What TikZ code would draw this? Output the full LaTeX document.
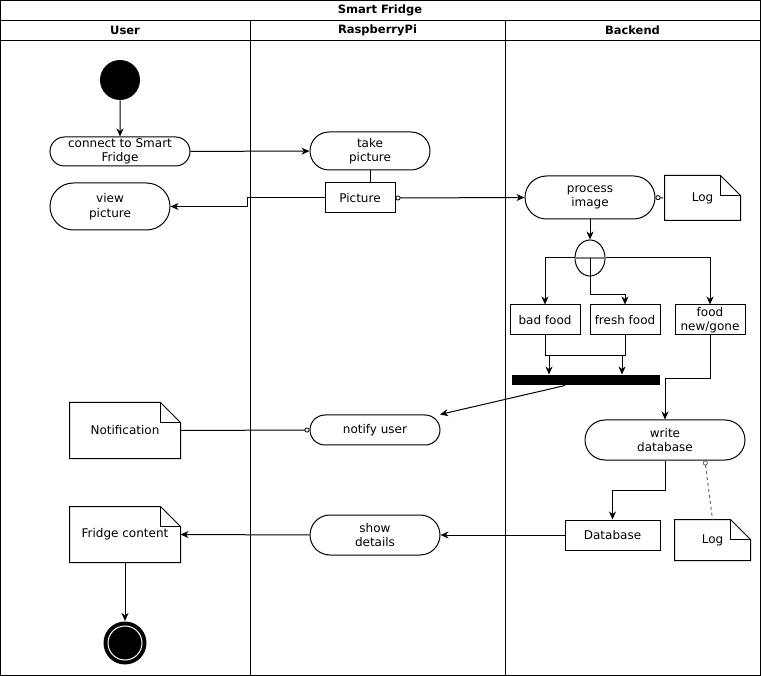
\documentclass[tikz,border=0pt]{standalone}
\usepackage{fontspec}
\setmainfont{DejaVu Sans}
\usetikzlibrary{arrows.meta,positioning,shapes.geometric,shapes.misc}

\begin{document}
\begin{tikzpicture}[x=1pt, y=-1pt, line width=1pt,
  font=\fontsize{12}{14.5}\selectfont,
  head/.style={font=\fontsize{11.5}{13}\selectfont\bfseries},
  act/.style={draw, rounded rectangle, align=center, inner sep=0pt},
  box/.style={draw, rectangle, align=center, inner sep=0pt, minimum height=30pt},
  note/.style={rectangle, align=center, inner sep=0pt, append after command={\pgfextra{
      \draw (\tikzlastnode.north west) -- ([xshift=-20pt]\tikzlastnode.north east)
        -- ([yshift=-20pt]\tikzlastnode.north east) -- (\tikzlastnode.south east)
        -- (\tikzlastnode.south west) -- cycle;
      \draw ([xshift=-20pt]\tikzlastnode.north east) |- ([yshift=-20pt]\tikzlastnode.north east);}}},
  ar/.style={-{Stealth[length=8pt,width=7pt,inset=2.5pt]}},
  ob/.style={{Circle[open,length=5pt,width=5pt,line width=0.8pt]}-},
  obar/.style={{Circle[open,length=5pt,width=5pt,line width=0.8pt]}-{Stealth[length=8pt,width=7pt,inset=2.5pt]}},
  lnk/.style={dash pattern=on 3pt off 3pt}]
  \useasboundingbox (0,0) rectangle (761,676);
  % pool and lanes
  \draw (0.5,0.5) rectangle (760.5,675.5);
  \draw (0.5,20.5) -- (760.5,20.5);
  \draw (0.5,40.5) -- (760.5,40.5);
  \draw (250.5,20.5) -- (250.5,675.5);
  \draw (505.5,20.5) -- (505.5,675.5);
  \node[head] (title) at (380,10.5) {Smart Fridge};
  \node[head] (laneuser) at (125,30.5) {User};
  \node[head] (lanepi) at (377.5,30.5) {RaspberryPi};
  \node[head] (laneback) at (632.5,30.5) {Backend};
  % User
  \node[circle, fill, minimum size=40pt, inner sep=0pt] (start) at (120,80) {};
  \node[act, minimum width=140pt, minimum height=29pt] (connect) at (120,151.5) {connect to Smart\\Fridge};
  \node[act, minimum width=120pt, minimum height=47pt] (view) at (110,206.5) {view\\picture};
  \node[note, minimum width=110pt, minimum height=55pt] (notif) at (125,430.5) {Notification};
  \node[note, minimum width=110pt, minimum height=55pt] (content) at (125,534.5) {Fridge content};
  \node[circle, fill, minimum size=43pt, inner sep=0pt,
    path picture={\draw[white] (path picture bounding box.center) circle (17pt);}] (stop) at (125,643) {};
  % RaspberryPi
  \node[act, minimum width=120pt, minimum height=38pt] (take) at (370,151) {take\\picture};
  \node[box, minimum width=70pt] (pic) at (360,198) {Picture};
  \node[act, minimum width=130pt, minimum height=30pt] (notify) at (375,430) {notify user};
  \node[act, minimum width=130pt, minimum height=40pt] (show) at (375,535) {show\\details};
  % Backend
  \node[act, minimum width=130pt, minimum height=43pt] (proc) at (590,197.5) {process\\image};
  \node[note, minimum width=75pt, minimum height=44pt] (log) at (702.5,198) {Log};
  \node[draw, ellipse, minimum width=30pt, minimum height=36pt, inner sep=0pt] (fork) at (590,258) {};
  \draw[gray, line width=1.5pt] (fork.west) -- (fork.east);
  \node[box, minimum width=70pt] (bad) at (545,320) {bad food};
  \node[box, minimum width=70pt] (fresh) at (625,320) {fresh food};
  \node[box, minimum width=70pt] (newgone) at (710,320) {food\\new/gone};
  \node[fill, minimum width=148pt, minimum height=10pt, inner sep=0pt] (bar) at (586,380) {};
  \node[act, minimum width=160pt, minimum height=40pt] (write) at (665,440) {write\\database};
  \node[box, minimum width=95pt] (db) at (612.5,535) {Database};
  \node[note, minimum width=75pt, minimum height=40pt] (log2) at (712.5,540) {Log};
  % flows
  \draw[ar] (start) -- (connect);
  \draw[ar] (connect) -- (take);
  \draw (take.south) -- (take.south |- pic.north);
  \draw[ar] (pic.west) -- ++(-77,0) |- (view.east);
  \draw[obar] (pic.east) -- (proc.west);
  \draw[ob, lnk] (proc.east) -- (log.west);
  \draw[ar] (proc.south) -- (fork.north);
  \draw[ar] (fork.west) -| (bad.north);
  \draw[ar] (fork.center) |- ([yshift=10pt]fresh.north) -- (fresh.north);
  \draw[ar] (fork.east) -| (newgone.north);
  \draw (bad.south) -- ++(0,20) -| (fresh.south);
  \draw[ar] ([xshift=4pt,yshift=-20pt]bad.south) -- ([xshift=4pt]bad.south |- bar.north);
  \draw[ar] ([xshift=-3pt,yshift=-20pt]fresh.south) -- ([xshift=-3pt]fresh.south |- bar.north);
  \draw[ar] (newgone.south) -- ++(0,43) -| (write.north);
  \draw[ar] ([xshift=-21pt]bar.south) -- ([xshift=65pt]notify.north);
  \draw[ob] (notify.west) -- (notif.east);
  \draw[ar] (write.south) -- ++(0,30) -| (db.north);
  \draw[ob, lnk, gray!80!black] ([xshift=40pt]write.south) -- (log2.north);
  \draw[ar] (db.west) -- (show.east);
  \draw[ar] (show.west) -- (content.east);
  \draw[ar] (content.south) -- (stop.north);
\end{tikzpicture}
\end{document}
